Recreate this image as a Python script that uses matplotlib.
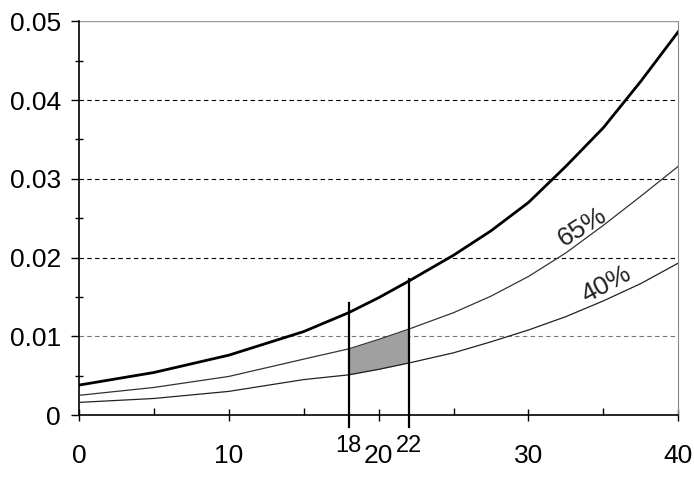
import matplotlib.pyplot as plt
from matplotlib.ticker import MultipleLocator

plt.rcParams["font.family"] = ["Liberation Sans", "DejaVu Sans"]

# values
age = [0, 5, 10, 15, 18, 20, 22, 25, 27.5, 30, 32.5, 35, 37.5, 40]
upper = [0.0038, 0.0054, 0.0076, 0.0106, 0.0130, 0.0149, 0.0170, 0.0203, 0.0234,
         0.0270, 0.0316, 0.0365, 0.0424, 0.0487]
p65 = [0.0025, 0.0035, 0.0049, 0.0071, 0.0084, 0.0096, 0.0109, 0.0130, 0.0151,
       0.0176, 0.0206, 0.0241, 0.0278, 0.0316]
p40 = [0.0016, 0.0021, 0.0030, 0.0045, 0.0051, 0.0058, 0.0066, 0.0079, 0.0093,
       0.0108, 0.0125, 0.0145, 0.0167, 0.0193]

band_lo, band_hi = 18, 22
marker_tops = {18: 0.0142, 22: 0.0173}

xticks = [0, 10, 20, 30, 40]
yticks = [0, 0.01, 0.02, 0.03, 0.04, 0.05]
ytick_labels = ["0", "0.01", "0.02", "0.03", "0.04", "0.05"]

fig = plt.figure(figsize=(6.94, 4.80), dpi=100)
ax = fig.add_axes([0.1138, 0.1354, 0.8636, 0.8200])

# grid lines
for y in yticks[1:-1]:
    col = "#777777" if y == 0.01 else "black"
    ax.axhline(y, color=col, lw=0.8, ls=(0, (4, 3)), zorder=1)
ax.axhline(0.05, color="#999999", lw=1.0, zorder=1)

mask = [band_lo <= a <= band_hi for a in age]
ax.fill_between(age, p40, p65, where=mask, color="#a0a0a0", lw=0, zorder=2)

ax.plot(age, upper, color="black", lw=2.0, zorder=4)
ax.plot(age, p65, color="#333333", lw=0.9, zorder=3)
ax.plot(age, p40, color="#222222", lw=0.9, zorder=3)

for xv, top in marker_tops.items():
    ax.plot([xv, xv], [-0.0015, top], color="black", lw=1.6, clip_on=False, zorder=5)
    ax.text(xv, -0.0026, str(xv), ha="center", va="top", fontsize=17)

ax.text(33.6, 0.0239, "65%", rotation=32, ha="center", va="center",
        rotation_mode="anchor", fontsize=19, color="#222222")
ax.text(35.2, 0.0166, "40%", rotation=28, ha="center", va="center",
        rotation_mode="anchor", fontsize=19, color="#222222")

ax.set_xlim(0, 40)
ax.set_ylim(0, 0.05)
ax.set_xticks(xticks)
ax.xaxis.set_minor_locator(MultipleLocator(5))
ax.set_yticks(yticks)
ax.set_yticklabels(ytick_labels)
ax.yaxis.set_minor_locator(MultipleLocator(0.005))

ax.tick_params(axis="x", which="major", direction="inout", length=8, width=1, labelsize=19, pad=17)
ax.tick_params(axis="x", which="minor", direction="in", length=5, width=1)
ax.tick_params(axis="y", which="major", direction="out", length=6, width=1, labelsize=19, pad=7)
ax.tick_params(axis="y", which="minor", direction="inout", length=6, width=1)

ax.spines["top"].set_visible(False)
ax.spines["right"].set_color("#888888")
ax.spines["left"].set_linewidth(1.2)
ax.spines["bottom"].set_linewidth(1.2)

fig.savefig("out.png", dpi=100)
